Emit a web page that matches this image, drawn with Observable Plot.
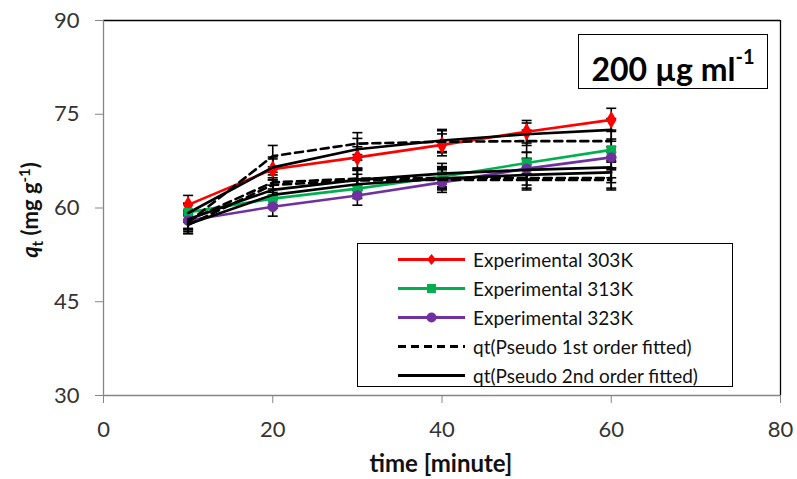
<!DOCTYPE html>
<html>
<head>
<meta charset="utf-8">
<script src="https://cdn.jsdelivr.net/npm/d3@7"></script>
<script src="https://cdn.jsdelivr.net/npm/@observablehq/plot@0.6"></script>
<style>
  html, body { margin: 0; padding: 0; background: #fff; }
  #wrap { position: relative; width: 797px; height: 479px; font-family: Lato, "Open Sans", sans-serif; }
  #inset { position: absolute; left: 578px; top: 34px; width: 188px; height: 53px; border: 1.5px solid #000; background: #fff;
           font-weight: bold; font-size: 32px; line-height: 53px; text-align: center; color: #000; }
  #inset sup { font-size: 20px; position: relative; top: -5px; }
  #legend { position: absolute; left: 357px; top: 243px; width: 374px; height: 142px; border: 1.5px solid #000; background: #fff; }
  .row { position: absolute; left: 0; height: 29px; display: flex; align-items: center; font-size: 19px; color: #111; }
  .row svg { margin-left: 40px; margin-right: 8px; }
</style>
</head>
<body>
<div id="wrap"></div>
<script>
// ---- data ----
const time = [10, 20, 30, 40, 50, 60];
const exp303 = [60.5, 66.2, 68.1, 70.1, 72.2, 74.1];
const exp313 = [59.3, 61.5, 63.1, 65.0, 67.2, 69.3];
const exp323 = [58.0, 60.2, 62.0, 64.1, 66.3, 68.1];
const pfo303 = [57.7, 68.3, 70.3, 70.6, 70.7, 70.7];
const pfo313 = [58.0, 64.1, 64.7, 64.8, 64.8, 64.8];
const pfo323 = [57.3, 63.7, 64.4, 64.5, 64.5, 64.5];
const pso303 = [59.2, 66.5, 69.4, 70.8, 71.8, 72.5];
const pso313 = [58.2, 62.9, 64.5, 65.5, 66.1, 66.5];
const pso323 = [57.4, 62.1, 63.8, 64.7, 65.3, 65.7];
const errorPercent = 2.5;
const xTicks = [0, 20, 40, 60, 80];
const yTicks = [30, 45, 60, 75, 90];
const legendNames = ["Experimental 303K", "Experimental 313K", "Experimental 323K",
  "qt(Pseudo 1st order fitted)", "qt(Pseudo 2nd order fitted)"];

const seriesDefs = [
  {id: "exp303", values: exp303, stroke: "#FF0000", symbol: "diamond", r: 4.5, dash: null},
  {id: "exp313", values: exp313, stroke: "#00B050", symbol: "square", r: 4.5, dash: null},
  {id: "exp323", values: exp323, stroke: "#7030A0", symbol: "circle", r: 4.5, dash: null},
  {id: "pfo303", values: pfo303, stroke: "#000", symbol: null, dash: "8,5"},
  {id: "pfo313", values: pfo313, stroke: "#000", symbol: null, dash: "8,5"},
  {id: "pfo323", values: pfo323, stroke: "#000", symbol: null, dash: "8,5"},
  {id: "pso303", values: pso303, stroke: "#000", symbol: null, dash: null},
  {id: "pso313", values: pso313, stroke: "#000", symbol: null, dash: null},
  {id: "pso323", values: pso323, stroke: "#000", symbol: null, dash: null}
];

const rows = seriesDefs.flatMap(s => s.values.map((q, i) => ({
  id: s.id, t: time[i], q, lo: q * (1 - errorPercent / 100), hi: q * (1 + errorPercent / 100)
})));

const capSymbol = {
  draw(context, size) {
    const w = Math.sqrt(size / Math.PI);
    context.moveTo(-w, 0);
    context.lineTo(w, 0);
  }
};

const marks = [
  Plot.ruleY([90], {stroke: "#000", strokeWidth: 1.3}),
  Plot.ruleX([80], {stroke: "#000", strokeWidth: 1.3}),
  Plot.ruleY([30], {stroke: "#868686", strokeWidth: 1.3}),
  Plot.ruleX([0], {stroke: "#868686", strokeWidth: 1.3}),
  Plot.axisX({ticks: xTicks, tickSize: 8, tickPadding: 18, stroke: "#868686", fill: "#333", fontSize: 22, label: null}),
  Plot.axisY({ticks: yTicks, tickSize: 8, tickPadding: 16, stroke: "#868686", fill: "#333", fontSize: 22, label: null})
];

for (const s of seriesDefs) {
  const d = rows.filter(r => r.id === s.id);
  marks.push(Plot.link(d, {x1: "t", x2: "t", y1: "lo", y2: "hi", stroke: "#000", strokeWidth: 1.6}));
  marks.push(Plot.dot(d, {x: "t", y: "lo", symbol: capSymbol, r: 5, stroke: "#000", strokeWidth: 1.6}));
  marks.push(Plot.dot(d, {x: "t", y: "hi", symbol: capSymbol, r: 5, stroke: "#000", strokeWidth: 1.6}));
}
for (const s of seriesDefs) {
  const d = rows.filter(r => r.id === s.id);
  marks.push(Plot.line(d, {x: "t", y: "q", stroke: s.stroke, strokeWidth: 2.6, strokeDasharray: s.dash, strokeLinejoin: "round"}));
  if (s.symbol) marks.push(Plot.dot(d, {x: "t", y: "q", symbol: s.symbol, r: s.r, fill: s.stroke, stroke: s.stroke}));
}

const chart = Plot.plot({
  width: 797,
  height: 479,
  marginLeft: 103,
  marginRight: 17,
  marginTop: 20,
  marginBottom: 84,
  style: {fontFamily: "Lato, 'Open Sans', sans-serif", background: "#fff", overflow: "visible"},
  x: {domain: [0, 80]},
  y: {domain: [30, 90]},
  marks
});

const wrap = document.getElementById("wrap");
wrap.appendChild(chart);

// axis titles
const svg = d3.select(chart);
svg.append("text")
  .attr("x", 441).attr("y", 472)
  .attr("text-anchor", "middle")
  .attr("font-weight", "bold").attr("font-size", 24).attr("fill", "#111")
  .text("time [minute]");

const yt = svg.append("text")
  .attr("transform", "translate(38,210) rotate(-90)")
  .attr("text-anchor", "middle")
  .attr("font-weight", "bold").attr("font-size", 22).attr("fill", "#111");
yt.append("tspan").attr("font-style", "italic").text("q");
yt.append("tspan").attr("font-size", 15).attr("dy", 5).text("t");
yt.append("tspan").attr("dy", -5).text(" (mg g");
yt.append("tspan").attr("font-size", 15).attr("dy", -8).text("-1");
yt.append("tspan").attr("dy", 8).text(")");

// inset label
const inset = document.createElement("div");
inset.id = "inset";
inset.innerHTML = "200 µg ml<sup>-1</sup>";
wrap.appendChild(inset);

// legend
const legend = document.createElement("div");
legend.id = "legend";
const legendStyles = [
  {stroke: "#FF0000", symbol: "diamond"},
  {stroke: "#00B050", symbol: "square"},
  {stroke: "#7030A0", symbol: "circle"},
  {stroke: "#000", dash: "8,5"},
  {stroke: "#000"}
];
legendNames.forEach((name, i) => {
  const st = legendStyles[i];
  const row = document.createElement("div");
  row.className = "row";
  row.style.top = (i * 29 + 1) + "px";
  let marker = "";
  if (st.symbol === "diamond") marker = `<path d="M33.5,9 L38,14.5 L33.5,20 L29,14.5 Z" fill="${st.stroke}"/>`;
  if (st.symbol === "square") marker = `<rect x="29" y="10" width="9" height="9" fill="${st.stroke}"/>`;
  if (st.symbol === "circle") marker = `<circle cx="33.5" cy="14.5" r="5" fill="${st.stroke}"/>`;
  row.innerHTML = `<svg width="67" height="29"><line x1="0" x2="67" y1="14.5" y2="14.5" stroke="${st.stroke}" stroke-width="3" ${st.dash ? `stroke-dasharray="${st.dash}"` : ""}/>${marker}</svg><span>${name}</span>`;
  legend.appendChild(row);
});
wrap.appendChild(legend);
</script>
</body>
</html>
